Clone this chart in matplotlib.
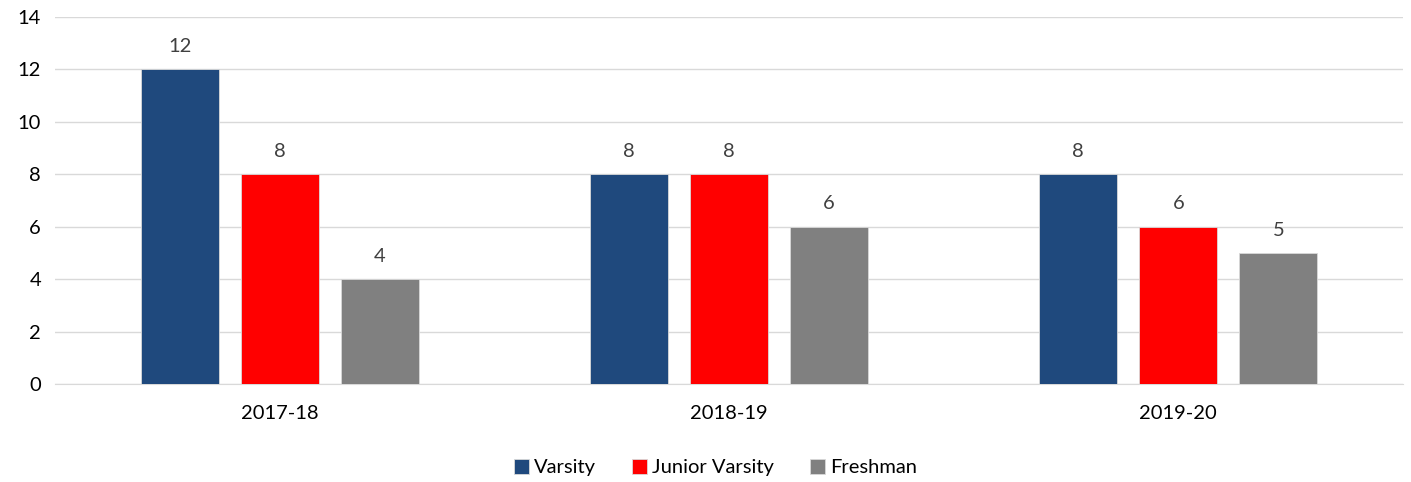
import numpy as np
import matplotlib
matplotlib.use("Agg")
import matplotlib.pyplot as plt

plt.rcParams['font.family'] = ['Lato', 'DejaVu Sans']

seasons = ["2017-18", "2018-19", "2019-20"]
varsity = [12, 8, 8]
junior_varsity = [8, 8, 6]
freshman = [4, 6, 5]

series = [("Varsity", varsity, "#1F497D"),
          ("Junior Varsity", junior_varsity, "#FF0000"),
          ("Freshman", freshman, "#808080")]

fig = plt.figure(figsize=(14.11, 4.82), dpi=100)
ax = fig.add_axes([55 / 1411, 1 - 384 / 482, 1348 / 1411, 367 / 482])

x = np.arange(len(seasons))
width = 0.174
offset = 0.2225

for i, (name, vals, col) in enumerate(series):
    pos = x + (i - 1) * offset
    bars = ax.bar(pos, vals, width, color=col, label=name, zorder=3,
                  edgecolor="#d9d9d9", linewidth=0.6)
    for b, v in zip(bars, vals):
        ax.text(b.get_x() + b.get_width() / 2, v + 0.55, str(v),
                ha="center", va="bottom", fontsize=14.5, color="#404040")

ax.set_xlim(-0.5, 2.5)
ax.set_ylim(0, 14)
ax.set_yticks(range(0, 15, 2))
ax.set_xticks(x)
ax.set_xticklabels(seasons)
ax.grid(axis="y", color="#d9d9d9", linewidth=1, zorder=0)
for s in ["top", "right", "left"]:
    ax.spines[s].set_visible(False)
ax.spines["bottom"].set_color("#d9d9d9")
ax.tick_params(axis="both", length=0, labelsize=14.5, labelcolor="black")
ax.tick_params(axis="y", pad=10)
ax.tick_params(axis="x", pad=15)

ax.legend(loc="upper center", bbox_to_anchor=(0.49, -0.155), ncol=3, frameon=False,
          fontsize=14.5, handlelength=0.75, handleheight=0.75, handletextpad=0.25,
          columnspacing=1.8)

fig.savefig("out.png", dpi=100)
